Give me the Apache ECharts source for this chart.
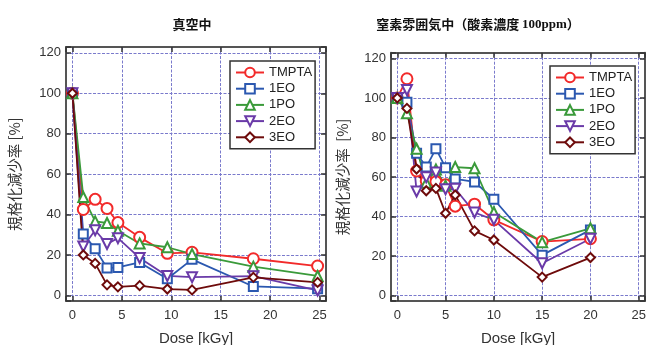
<!DOCTYPE html>
<html lang="ja">
<head>
  <meta charset="utf-8">
  <title>規格化減少率</title>
  <script src="https://cdn.jsdelivr.net/npm/echarts@6/dist/echarts.min.js"></script>
  <style>
    html, body { margin: 0; padding: 0; background: #fff; }
    #main { width: 646px; height: 345px; }
  </style>
</head>
<body>
  <div id="main"></div>
  <script>
    // ---- 真空中 ----
    var doseVac = [0, 1.1, 2.3, 3.5, 4.6, 6.8, 9.6, 12.1, 18.3, 24.8];
    var vacTMPTA = [100, 42.5, 47.5, 43, 36, 28.7, 20.8, 21.3, 18.1, 14.5];
    var vac1EO   = [100, 30.4, 23, 13.5, 13.8, 16.3, 8.2, 17.8, 4.4, 3.3];
    var vac1PO   = [100, 48.7, 36.6, 35.8, 32, 25.7, 23.8, 20.4, 14.2, 9.6];
    var vac2EO   = [100, 24.2, 32.2, 25.4, 28.3, 18.5, 9.6, 9, 9.5, 2.4];
    var vac3EO   = [100, 20, 15.8, 5.2, 4.2, 4.8, 3.1, 2.7, 8.9, 6.4];

    // ---- 窒素雰囲気中 ----
    var doseN2 = [0, 1, 2, 3, 4, 5, 6, 8, 10, 15, 20];
    var n2TMPTA = [100, 109.7, 63, 58, 57.6, 56, 45.2, 46.2, 38.3, 27.3, 28.7];
    var n21EO   = [100, 97.8, 72, 65, 74.3, 64.7, 59, 57.5, 48.7, 20.4, 33.2];
    var n21PO   = [100, 92.2, 74.3, 57, 63.8, 55.5, 65, 64.4, 42.1, 27, 34];
    var n22EO   = [100, 104, 52.6, 59.8, 62.2, 53.8, 54, 42, 38.3, 16.3, 28.7];
    var n23EO   = [100, 94.7, 64, 53, 54.2, 41.6, 50.9, 32.7, 28.1, 9.3, 19.2];

    var names = ['TMPTA', '1EO', '1PO', '2EO', '3EO'];
    var xTicks = [0, 5, 10, 15, 20, 25];
    var yTicks = [0, 20, 40, 60, 80, 100, 120];

    // 系列の見た目
    var looks = {
      'TMPTA': { color: '#f22a2a', symbol: 'emptyCircle', size: 11, rotate: 0 },
      '1EO':   { color: '#2b58b0', symbol: 'emptyRect', size: 9, rotate: 0 },
      '1PO':   { color: '#3a9a3a', symbol: 'emptyTriangle', size: 10, rotate: 0 },
      '2EO':   { color: '#6a3aa8', symbol: 'emptyTriangle', size: 10, rotate: 180 },
      '3EO':   { color: '#6e0b0b', symbol: 'emptyDiamond', size: 9, rotate: 0 }
    };

    var numFont = 'Liberation Sans, Arial, sans-serif';
    var jpFont = 'Noto Sans CJK JP';

    function pairs(xs, ys) {
      return xs.map(function (x, i) { return [x, ys[i]]; });
    }

    function tickLabel(list) {
      return function (v) {
        for (var i = 0; i < list.length; i++) {
          if (Math.abs(list[i] - v) < 1e-6) return String(list[i]);
        }
        return '';
      };
    }

    var frameLine = { show: true, onZero: false, lineStyle: { color: '#555', width: 2 } };
    var tick = { show: true, inside: true, length: 5, lineStyle: { color: '#333', width: 1.5 } };
    var grid = {
      show: true, showMinLine: false, showMaxLine: false,
      lineStyle: { color: '#7a7acc', width: 1, type: [3, 1.5] }
    };

    function axesFor(g, yName, nameGapY) {
      return {
        x: [{
          type: 'value', gridIndex: g, position: 'bottom',
          min: -0.65, max: 25.65, splitNumber: 5,
          axisLine: frameLine, axisTick: tick, splitLine: grid,
          axisLabel: { formatter: tickLabel(xTicks), margin: 8, fontSize: 13, color: '#333', fontFamily: numFont },
          name: 'Dose [kGy]', nameLocation: 'middle', nameGap: 30,
          nameTextStyle: { fontSize: 15, color: '#333', fontFamily: numFont }
        }, {
          type: 'value', gridIndex: g, position: 'top',
          min: -0.65, max: 25.65, splitNumber: 5,
          axisLine: frameLine, axisTick: tick, splitLine: { show: false },
          axisLabel: { show: false }
        }],
        y: [{
          type: 'value', gridIndex: g, position: 'left',
          min: -2.8, max: 122.9, splitNumber: 6,
          axisLine: frameLine, axisTick: tick, splitLine: grid,
          axisLabel: { formatter: tickLabel(yTicks), margin: 5, fontSize: 13, color: '#333', fontFamily: numFont },
          name: yName, nameLocation: 'middle', nameGap: nameGapY, nameRotate: 90,
          nameTextStyle: { fontSize: 14.5, color: '#333', fontFamily: jpFont }
        }, {
          type: 'value', gridIndex: g, position: 'right',
          min: -2.8, max: 122.9, splitNumber: 6,
          axisLine: frameLine, axisTick: tick, splitLine: { show: false },
          axisLabel: { show: false }
        }]
      };
    }

    var a0 = axesFor(0, '規格化減少率 [%]', 44);
    var a1 = axesFor(1, '規格化減少率  [%]', 41);

    function makeSeries(name, xs, ys, xi, yi) {
      var lk = looks[name];
      return {
        name: name, type: 'line',
        xAxisIndex: xi, yAxisIndex: yi,
        data: pairs(xs, ys),
        symbol: lk.symbol, symbolSize: lk.size, symbolRotate: lk.rotate,
        showAllSymbol: true,
        lineStyle: { color: lk.color, width: 1.8 },
        itemStyle: { color: lk.color, borderColor: lk.color, borderWidth: 1.2 },
        emphasis: { disabled: true },
        z: 3
      };
    }

    var vacData = [vacTMPTA, vac1EO, vac1PO, vac2EO, vac3EO];
    var n2Data = [n2TMPTA, n21EO, n21PO, n22EO, n23EO];
    var series = [];
    names.forEach(function (n, i) { series.push(makeSeries(n, doseVac, vacData[i], 0, 0)); });
    names.forEach(function (n, i) { series.push(makeSeries(n, doseN2, n2Data[i], 2, 2)); });

    function legendAt(left, top) {
      return {
        orient: 'vertical', left: left, top: top,
        data: names, selectedMode: false,
        itemWidth: 28, itemHeight: 12, itemGap: 3.2,
        padding: [5, 3, 5, 5],
        backgroundColor: '#fff', borderColor: '#333', borderWidth: 1.5, borderRadius: 0,
        textStyle: { fontSize: 13, color: '#222', fontFamily: numFont }
      };
    }

    var chart = echarts.init(document.getElementById('main'));
    chart.setOption({
      animation: false,
      backgroundColor: '#fff',
      title: [{
        text: '真空中', left: 187, top: 13, textAlign: 'center',
        textStyle: { fontSize: 13, fontWeight: 'bold', color: '#111', fontFamily: jpFont }
      }, {
        text: '{a|窒素雰囲気中（酸素濃度 }{b|100ppm}{a|）}', left: 473, top: 13, textAlign: 'center',
        textStyle: {
          rich: {
            a: { fontSize: 13, fontWeight: 'bold', color: '#111', fontFamily: jpFont },
            b: { fontSize: 13, fontWeight: 'bold', color: '#111', fontFamily: 'Liberation Serif' }
          }
        }
      }],
      legend: [legendAt(230, 61), legendAt(550, 66)],
      grid: [
        { left: 66, top: 47, width: 260, height: 254, outerBoundsMode: 'none' },
        { left: 391, top: 52.7, width: 254, height: 248.3, outerBoundsMode: 'none' }
      ],
      xAxis: a0.x.concat(a1.x),
      yAxis: a0.y.concat(a1.y),
      series: series
    });
  </script>
</body>
</html>
